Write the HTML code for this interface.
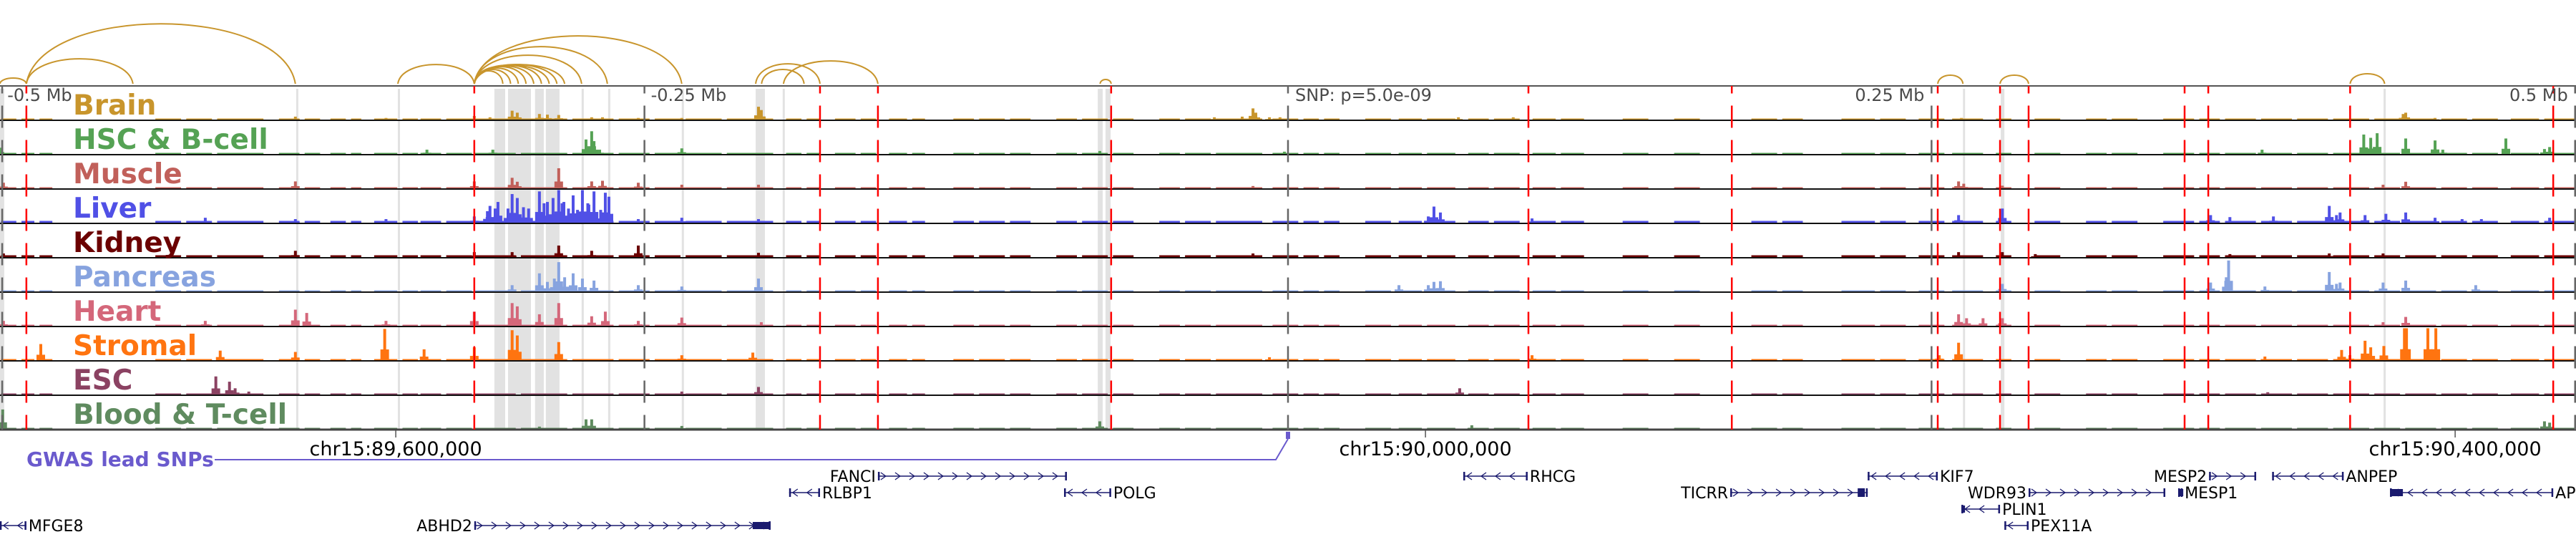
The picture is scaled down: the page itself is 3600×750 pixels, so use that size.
<!DOCTYPE html>
<html><head><meta charset="utf-8">
<style>
html,body{margin:0;padding:0;background:#fff;}
svg{display:block;}
text{font-family:"DejaVu Sans","Liberation Sans",sans-serif;}
</style></head>
<body>
<svg id="chart" xmlns="http://www.w3.org/2000/svg" width="3600" height="750" viewBox="0 0 3600 750">
  <g id="bands"></g>
  <g id="arcs"></g>
  <g id="tracks"></g>
  <g id="vlines"></g>
  <g id="labels"></g>
  <g id="axis"></g>
  <g id="gwas"></g>
  <g id="genes"></g>
</svg>
<script>
// ---- data (positions in kb relative to lead SNP at chr15:89,946,600) ----
const trackNames = ["Brain","HSC & B-cell","Muscle","Liver","Kidney","Pancreas","Heart","Stromal","ESC","Blood & T-cell"];
const trackColors = ["#c8952c","#55a254","#c1605a","#5050e6","#6b0000","#87a3df","#d4677a","#ff7410","#8b4262","#5f8b5f"];
const bgLevel = [2,2,2,3,3,2,2,2,2,2];
const bgRanges = [[-500,-494],[-492,-487],[-485,-480],[-440,-430],[-428,-418],[-416,-398],[-392,-384],[-382,-376],[-372,-366],[-364,-360],[-355,-346],[-344,-338],[-337,-329],[-327,-317],[-316,-300],[-298,-280],[-278,-262],[-260,-248],[-246,-236],[-234,-220],[-218,-200],[-195,-189],[-187,-182],[-176,-168],[-166,-160],[-155,-148],[-146,-141],[-130,-122],[-120,-110],[-108,-100],[-90,-82],[-80,-70],[-68,-60],[-50,-42],[-40,-30],[-28,-10],[-6,4],[6,12],[14,20],[30,40],[43,52],[54,65],[70,78],[80,90],[95,104],[106,115],[130,140],[150,160],[180,190],[192,200],[215,228],[230,240],[245,255],[258,270],[275,281],[290,300],[310,318],[320,330],[340,352],[354,362],[364,376],[378,390],[392,404],[406,420],[422,432],[434,446],[448,458],[460,470],[475,486],[488,500]];
const peaksBrain = [[-385.6,10],[-350.4,6],[-316.1,12],[-310,8],[-301.4,28],[-299.4,22],[-290.8,18],[-287.7,16],[-283.3,15],[-270.5,8],[-266.3,8],[-252.4,6],[-235.5,6],[-205.7,40],[-204.6,30],[-28.6,8],[-17.8,10],[-13.6,35],[-12.5,22],[-7.2,8],[-3.1,8],[66.2,8],[87.5,8],[261.6,6],[434.2,22],[433.2,18],[445.6,6]];
const peaksHSC = [[-500.4,20],[-334.5,14],[-308.9,14],[-272.7,45],[-270.5,70],[-269.6,40],[-267.4,14],[-235.5,18],[-73.1,10],[-1.4,8],[378.4,14],[417.9,60],[420.6,50],[423.1,64],[434.2,48],[445.6,42],[448.6,14],[473.1,48],[490.1,22],[488.1,16]];
const peaksMuscle = [[-499,18],[-385.6,22],[-316.1,22],[-301.4,33],[-299.4,21],[-283.3,62],[-270.5,22],[-266.3,24],[-252.4,18],[-235.5,12],[-205.7,12],[-13.6,8],[260.5,22],[262.5,15],[277.5,9],[425.4,12],[434.2,21]];
const peaksLiver = [[-420.6,16],[-385.6,12],[-350.4,12],[-316.1,20],[-311,36],[-310,52],[-308,44],[-306.9,64],[-303,44],[-301.4,88],[-299.4,76],[-297,48],[-295,44],[-290.8,96],[-289,60],[-287.7,64],[-285.5,76],[-283.3,100],[-282,60],[-281.3,64],[-279.5,44],[-277.7,84],[-276,40],[-274.1,100],[-272,60],[-271.6,56],[-269.6,96],[-267,40],[-265.2,92],[-263.8,80],[-252.4,12],[-235.5,16],[-205.7,12],[54.5,20],[56.7,50],[59.2,32],[94.8,14],[260.5,24],[277.5,44],[358.4,24],[365.9,18],[382.8,20],[404.5,52],[407.3,24],[408.7,32],[418.4,24],[426.5,28],[434.2,32],[445.6,16],[456.1,12],[463.6,12],[490.1,16]];
const peaksKidney = [[-499,12],[-385.6,20],[-316.1,16],[-301.4,16],[-283.3,36],[-270.5,20],[-252.4,36],[-205.7,14],[-13.6,12],[260.5,16],[277.5,16],[290.3,10],[365.9,10],[404.5,12],[425.4,12]];
const peaksPancreas = [[-301.4,20],[-290.8,56],[-287.7,30],[-285,40],[-283.3,90],[-281,44],[-277.7,56],[-274.1,40],[-269.6,34],[-252.4,20],[-235.5,16],[-205.7,40],[43.1,20],[54.5,20],[56.7,30],[59.2,32],[277.5,24],[358.4,28],[364.5,44],[365.4,95],[379.5,16],[404.5,60],[407.3,24],[408.7,28],[425.4,28],[434.2,34],[461.4,20]];
const peaksHeart = [[-499,16],[-420.6,16],[-385.6,50],[-381.2,40],[-350.4,16],[-316.1,44],[-301.4,70],[-299.4,60],[-290.8,36],[-283.3,70],[-270.5,30],[-265.2,44],[-252.4,16],[-235.5,26],[-204.6,12],[260.5,36],[263.6,24],[270,24],[277.5,24],[425.4,12],[434.2,28]];
const peaksStromal = [[-484.5,50],[-414.8,30],[-385.6,26],[-350.9,96],[-335.6,34],[-316.1,40],[-301.4,92],[-299.4,76],[-283.3,56],[-235.5,16],[-207.9,24],[-7.2,10],[94.8,16],[253,16],[260.5,54],[379.5,12],[409.3,32],[412.5,16],[418.4,60],[420.6,40],[425.7,44],[433.7,98],[434.5,98],[442.8,98],[445.9,98]];
const peaksESC = [[-416.5,56],[-411.2,40],[-409,20],[-403.7,10],[-235.5,10],[-205.7,24],[66.7,20],[380.6,8]];
const peaksBlood = [[-499.3,60],[-272.7,30],[-270.5,30],[-290.8,8],[-235.5,10],[-73.1,24],[71.4,12],[488.1,24],[490.1,20]];
const trackPeaks = [peaksBrain,peaksHSC,peaksMuscle,peaksLiver,peaksKidney,peaksPancreas,peaksHeart,peaksStromal,peaksESC,peaksBlood];
const bandRanges = [[-500.4,-498.7],[-385.3,-384.5],[-345.8,-345],[-308.3,-304.1],[-303,-294.1],[-292.5,-289.1],[-288.3,-283],[-274.4,-273.6],[-264.1,-263.3],[-235.5,-234.7],[-206.8,-203.2],[-196.3,-195.5],[-73.9,-72],[-70.9,-68.9],[262.2,263],[276.9,278.3],[425.6,426.4]];
const redLines = [-490.1,-316.1,-181.8,-159.3,-68.7,93.4,172.4,252.4,276.6,287.7,348.3,357.5,412.6,491.5];
const greyLines = [-499.5,-250,0,250,500];
const loopStart = [-500.4,-490.1,-490.1,-345.8,-316.1,-316.1,-316.1,-316.1,-316.1,-316.1,-316.1,-316.1,-316.1,-316.1,-316.1,-316.1,-206.8,-204.5,-196,-73,252.4,276.6,412.6];
const loopEnd   = [-490.1,-448.7,-385.6,-316.1,-235.5,-264.4,-274.4,-305,-302,-299,-296,-293,-290,-287,-284,-281,-181.8,-188,-159.3,-68.7,262.2,287.7,426];
const loopScore = [8,35,84,27,67,52,40,18,20,22,24,25,26,26,27,27,28,20,32,6,12,12,14];
const scaleTicks = ["-0.5 Mb","-0.25 Mb","SNP: p=5.0e-09","0.25 Mb","0.5 Mb"];
const scaleTickPos = [-500,-250,0,250,500];
const axisTickKb = [-346.6,53.4,453.4];
const axisTickLabels = ["chr15:89,600,000","chr15:90,000,000","chr15:90,400,000"];
const geneNames  = ["MFGE8","ABHD2","FANCI","RLBP1","POLG","RHCG","TICRR","KIF7","WDR93","PLIN1","PEX11A","MESP2","MESP1","ANPEP","AP3S2"];
const geneStart  = [-500.4,-316.1,-159.3,-193.8,-87,68.1,171.8,225.2,287.7,261.6,278.3,357.8,345.8,382.3,428.1];
const geneEnd    = [-490.1,-201,-85.9,-181.8,-68.7,93.1,225.2,252.4,340.8,276.6,287.7,376.1,347.5,410.1,491.5];
const geneStrand = ["-","+","+","-","-","-","+","-","+","-","-","+","-","-","-"];
const geneRow    = [3,3,0,1,1,0,1,0,1,2,3,0,1,0,1];
const geneLabelSide = ["r","l","l","r","r","r","l","r","l","r","r","l","r","r","r"];

// ---- scales ----
const NS="http://www.w3.org/2000/svg";
const PXKB=3.5975, CX=1800;
function xs(kb){return CX+kb*PXKB;}
const TOP=120, TH=48;
function trackBottom(i){return TOP+TH*(i+1)-0.5;}
function ys(v){return v*0.46;}
function mk(tag,attrs,parent){const e=document.createElementNS(NS,tag);for(const k in attrs)e.setAttribute(k,attrs[k]);parent.appendChild(e);return e;}

// bands
const gB=document.getElementById('bands');
bandRanges.forEach(b=>{
  const r=mk('rect',{x:xs(b[0]),y:TOP+4,width:Math.max(3,xs(b[1])-xs(b[0])),height:480-4,fill:'#e2e2e2'},gB);
  
  
});

// arcs
const gA=document.getElementById('arcs');
loopStart.forEach((s,i)=>{
  const x1=xs(s),x2=xs(loopEnd[i]),h=loopScore[i],b=117;
  const p=mk('path',{d:`M${x1},${b} C${x1+(x2-x1)*0.05},${b-h*1.33} ${x2-(x2-x1)*0.05},${b-h*1.33} ${x2},${b}`,fill:'none',stroke:'#c8952c','stroke-width':2},gA);
  
  
});

// tracks
const gT=document.getElementById('tracks');
trackNames.forEach((n,i)=>{
  const g=mk('g',{},gT);
  
  
  const yb=trackBottom(i);
  bgRanges.forEach(r=>{
    const e=mk('rect',{x:xs(r[0]),y:yb-bgLevel[i],width:xs(r[1])-xs(r[0]),height:bgLevel[i],fill:trackColors[i]},g);
    
    
  });
  trackPeaks[i].forEach(p=>{
    const h=ys(p[1]);
    const e=mk('rect',{x:xs(p[0])-2,y:yb-h,width:4,height:h,fill:trackColors[i]},g);
    
    
    const s=mk('rect',{x:xs(p[0])-6,y:yb-h*0.35,width:12,height:h*0.35,fill:trackColors[i]},g);
    
    
  });
  const ln=mk('line',{x1:0,x2:3600,y1:yb+0.5,y2:yb+0.5,stroke:i==9?'#444':'#111','stroke-width':i==9?3:2},g);
  
  
});
const topLine=mk('line',{x1:0,x2:3600,y1:TOP,y2:TOP,stroke:'#555','stroke-width':2},gT);



// vertical marker lines
const gV=document.getElementById('vlines');
greyLines.forEach(k=>{
  const l=mk('line',{x1:xs(k),x2:xs(k),y1:TOP,y2:600,stroke:'#666','stroke-width':2.5,'stroke-dasharray':'31 17','stroke-dashoffset':20.5},gV);
  
  
});
redLines.forEach(k=>{
  const l=mk('line',{x1:xs(k),x2:xs(k),y1:TOP,y2:600,stroke:'#ff0000','stroke-width':2.5,'stroke-dasharray':'31 17','stroke-dashoffset':20.5},gV);
  
  
});

// scale labels
const gL=document.getElementById('labels');
scaleTicks.forEach((t,i)=>{
  const k=scaleTickPos[i];
  const anchor = k>100?'end':'start';
  const x = k>100? xs(k)-10 : xs(k)+ (k==0?10:9);
  const e=mk('text',{x:x,y:141,'font-size':24,fill:'#4a4a4a','text-anchor':anchor},gL);
  e.textContent=t;
  
  
});
trackNames.forEach((n,i)=>{
  const e=mk('text',{x:102,y:trackBottom(i)-7.5,'font-size':39,'font-weight':'bold',fill:trackColors[i]},gL);
  e.textContent=n;
  
  
});

// genome axis
const gX=document.getElementById('axis');
axisTickKb.forEach((k,i)=>{
  const t=mk('line',{x1:xs(k),x2:xs(k),y1:601,y2:611,stroke:'#555','stroke-width':1.5},gX);
  
  
  const e=mk('text',{x:xs(k),y:636,'font-size':27,fill:'#000','text-anchor':'middle'},gX);
  e.textContent=axisTickLabels[i];
  
  
});

// GWAS
const gG=document.getElementById('gwas');
const gl=mk('text',{x:37,y:651,'font-size':28,'font-weight':'bold',fill:'#6a5acd'},gG);
gl.textContent='GWAS lead SNPs';


const gp=mk('path',{d:`M300,642 L${xs(0)-17},642 L${xs(0)},613`,fill:'none',stroke:'#6a5acd','stroke-width':2},gG);


const gr=mk('rect',{x:xs(0)-3,y:603,width:6,height:10,fill:'#6a5acd'},gG);



// genes
const gN=document.getElementById('genes');
const rowY=[665,688,711,734];
geneNames.forEach((n,i)=>{
  const g=mk('g',{},gN);
  
  
  const x1=xs(geneStart[i]),x2=xs(geneEnd[i]),y=rowY[geneRow[i]];
  mk('line',{x1:x1,x2:x2,y1:y,y2:y,stroke:'#1a1a6e','stroke-width':1.5},g);
  for(let x=x1+8;x<x2-6;x+=20){
    const d=geneStrand[i]=='+'?`M${x-4},${y-5} L${x+3},${y} L${x-4},${y+5}`:`M${x+4},${y-5} L${x-3},${y} L${x+4},${y+5}`;
    mk('path',{d:d,fill:'none',stroke:'#1a1a6e','stroke-width':1.3},g);
  }
  mk('rect',{x:x1,y:y-6,width:2.5,height:12,fill:'#1a1a6e'},g);
  mk('rect',{x:x2-2.5,y:y-6,width:2.5,height:12,fill:'#1a1a6e'},g);
  if(n=='ABHD2') mk('rect',{x:x2-25,y:y-5,width:25,height:10,fill:'#1a1a6e'},g);
  if(n=='AP3S2') mk('rect',{x:x1,y:y-5,width:18,height:10,fill:'#1a1a6e'},g);
  if(n=='TICRR') mk('rect',{x:x2-14,y:y-6,width:10,height:12,fill:'#1a1a6e'},g);
  if(n=='MESP1') mk('rect',{x:x1,y:y-5,width:x2-x1+1,height:10,fill:'#1a1a6e'},g);
  if(n=='PLIN1') mk('rect',{x:x1,y:y-5,width:5,height:10,fill:'#1a1a6e'},g);
  const r=geneLabelSide[i]=='r';
  const t=mk('text',{x:r?x2+3:x1-3,y:y+8,'font-size':22,fill:'#000','text-anchor':r?'start':'end'},g);
  t.textContent=n;
});
</script>
</body></html>
